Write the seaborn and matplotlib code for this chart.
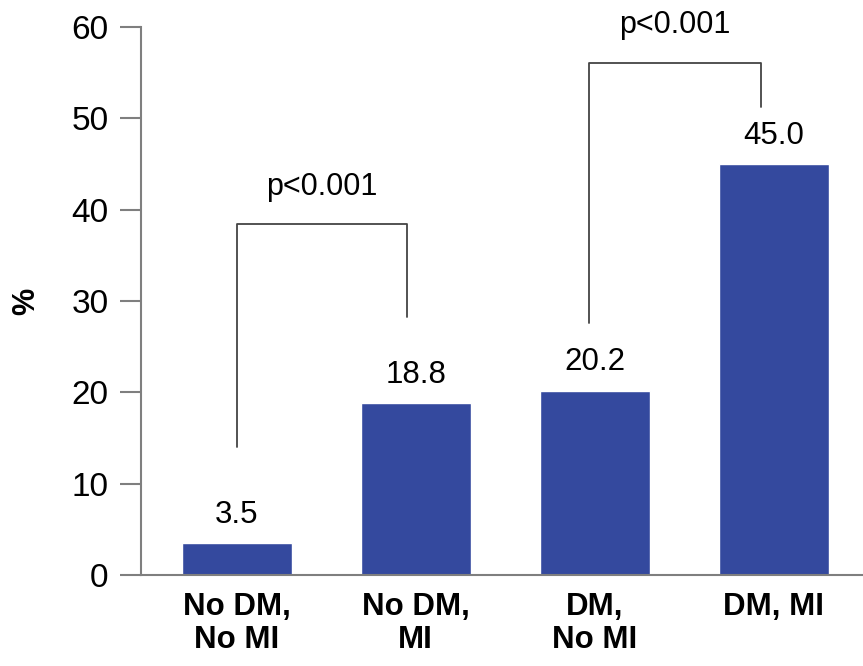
import matplotlib
matplotlib.use("Agg")
import matplotlib.pyplot as plt
import seaborn as sns
import pandas as pd

# 数据
groups = ["No DM,\nNo MI", "No DM,\nMI", "DM,\nNo MI", "DM, MI"]
values = [3.5, 18.8, 20.2, 45.0]
value_labels = ["3.5", "18.8", "20.2", "45.0"]
# 显著性括号: (左x, 右x, 左端y, 右端y, 顶部y, 文字)
brackets = [
    (0.0, 0.95, 14.0, 28.3, 38.4, "p<0.001"),
    (1.97, 2.93, 27.6, 51.2, 56.1, "p<0.001"),
]

sns.set_style("white")
plt.rcParams['font.family'] = ['Liberation Sans', 'DejaVu Sans']
plt.rcParams['text.color'] = 'black'
plt.rcParams['xtick.labelcolor'] = 'black'
plt.rcParams['ytick.labelcolor'] = 'black'
plt.rcParams['axes.labelcolor'] = 'black'

df = pd.DataFrame({"group": groups, "pct": values})

fig = plt.figure(figsize=(8.63, 6.66), dpi=100)
ax = fig.add_axes([0.1634, 0.1366, 0.8366, 0.8229])

sns.barplot(data=df, x="group", y="pct", color="#34499e", saturation=1,
            width=0.615, ax=ax)

ax.set_ylim(0, 60)
ax.set_xlim(-0.535, 3.5)
ax.set_yticks(range(0, 61, 10))
ax.set_xlabel("")
ax.set_ylabel("%", fontsize=22, fontweight="bold")
ax.yaxis.set_label_coords(-0.138, 0.5)

for s in ["top", "right"]:
    ax.spines[s].set_visible(False)
for s in ["left", "bottom"]:
    ax.spines[s].set_color("#7f7f7f")
    ax.spines[s].set_linewidth(1.5)

ax.tick_params(axis="y", direction="out", length=15, width=1.5, color="#7f7f7f",
               labelsize=24, pad=8.5, left=True)
ax.tick_params(axis="x", length=0, labelsize=22.5, pad=12)
for t in ax.get_xticklabels():
    t.set_fontweight("bold")
    t.set_linespacing(1.15)

# 柱顶数值
for i, (v, lab) in enumerate(zip(values, value_labels)):
    ax.text(i, v + 3.1, lab, ha="center", va="center", fontsize=22.5)

# 显著性括号
for x0, x1, y0, y1, top, txt in brackets:
    ax.plot([x0, x0, x1, x1], [y0, top, top, y1], color="#444444", lw=1.3,
            clip_on=False)
    ax.text((x0 + x1) / 2, top + 4.1, txt, ha="center", va="center",
            fontsize=22, clip_on=False)

fig.savefig("out.png", dpi=100)
